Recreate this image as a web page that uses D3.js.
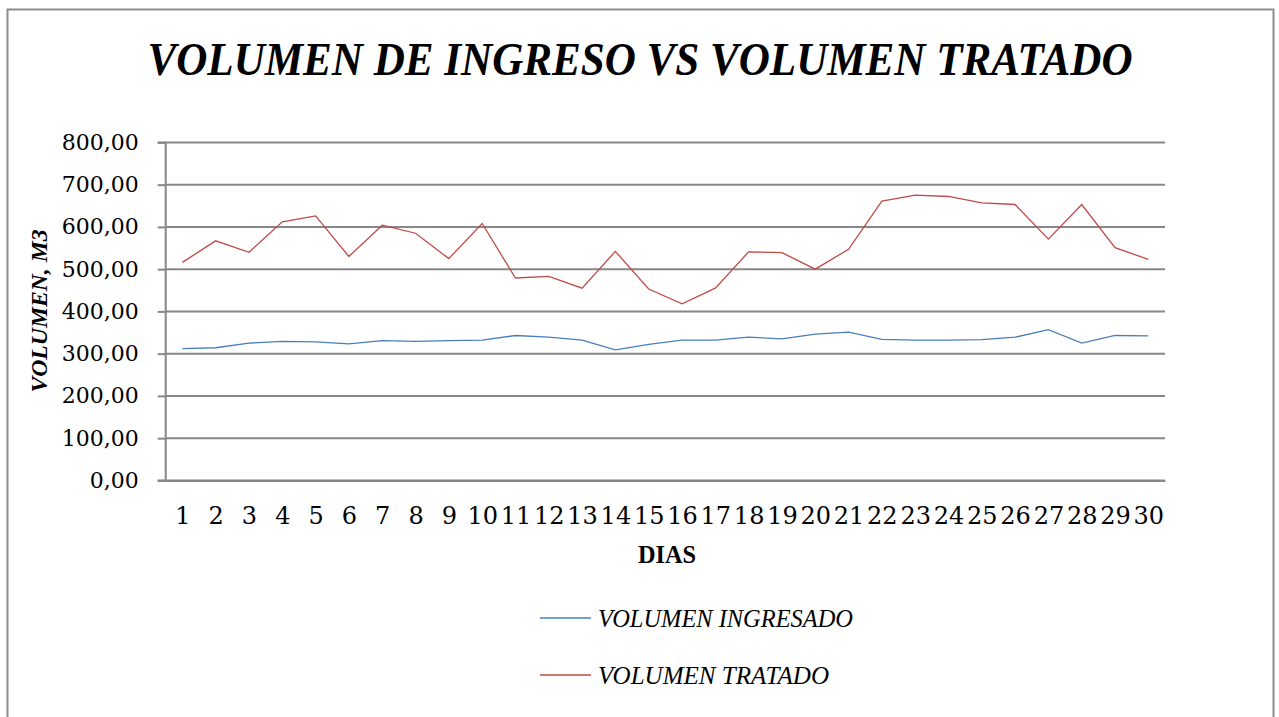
<!DOCTYPE html>
<html>
<head>
<meta charset="utf-8">
<script src="https://cdn.jsdelivr.net/npm/d3@7"></script>
<style>
  html, body { margin: 0; padding: 0; background: #fff; }
  svg { display: block; }
</style>
</head>
<body>
<svg id="chart" width="1279" height="717"></svg>
<script>
const days = d3.range(1, 31).map(String);
const volumenIngresado = [312, 314, 325, 329, 328, 323, 331, 329, 331, 332,
                          343, 339, 332, 309, 322, 332, 332, 339, 335, 346,
                          351, 334, 332, 332, 333, 339, 357, 325, 343, 342];
const volumenTratado = [516, 567, 540, 612, 626, 530, 604, 585, 525, 608,
                        479, 483, 455, 542, 453, 418, 455, 541, 539, 500,
                        547, 661, 675, 672, 657, 653, 571, 653, 551, 523];
const yTicks = [0, 100, 200, 300, 400, 500, 600, 700, 800];
const seriesNames = ["VOLUMEN INGRESADO", "VOLUMEN TRATADO"];
const seriesColors = ["#4a7ebb", "#be4b48"];

const svg = d3.select("#chart");
const serif = "'Liberation Serif', 'DejaVu Serif', serif";

// outer frame
svg.append("rect").attr("x", 7.5).attr("y", 9.5).attr("width", 1266).attr("height", 720)
  .attr("fill", "#fff").attr("stroke", "#8c8c8c").attr("stroke-width", 2);

// title
svg.append("text").attr("x", 640).attr("y", 75).attr("text-anchor", "middle")
  .attr("font-family", serif).attr("font-weight", "bold").attr("font-style", "italic")
  .attr("font-size", 47).attr("textLength", 985).attr("lengthAdjust", "spacingAndGlyphs")
  .attr("fill", "#000").text("VOLUMEN DE INGRESO VS VOLUMEN TRATADO");

const pLeft = 165.7, pRight = 1165, pTop = 142.4, pBottom = 480.4;
const x = d3.scalePoint().domain(days).range([pLeft, pRight]).padding(0.5);
const y = d3.scaleLinear().domain([0, 800]).range([pBottom, pTop]);

// gridlines
svg.append("g").selectAll("line").data(yTicks).join("line")
  .attr("x1", pLeft).attr("x2", pRight)
  .attr("y1", d => y(d)).attr("y2", d => y(d))
  .attr("stroke", "#878787").attr("stroke-width", 2);

// y axis
const yAxis = d3.axisLeft(y).tickValues(yTicks).tickSize(8).tickPadding(19)
  .tickFormat(d => d3.format(".2f")(d).replace(".", ","));
const gy = svg.append("g").attr("transform", `translate(${pLeft},0)`).call(yAxis);
gy.select(".domain").attr("stroke", "#878787").attr("stroke-width", 2).attr("d", `M-8,${pTop}H0V${pBottom}H-8`);
gy.selectAll(".tick line").attr("stroke", "#878787").attr("stroke-width", 2);
gy.selectAll(".tick text").attr("font-family", "'DejaVu Serif', serif").attr("font-size", 22).attr("fill", "#000");

// x axis
const xAxis = d3.axisBottom(x).tickSize(0);
const gx = svg.append("g").attr("transform", `translate(0,${pBottom})`).call(xAxis);
gx.select(".domain").attr("stroke", "#878787").attr("stroke-width", 2);
gx.selectAll(".tick text").attr("font-family", "'DejaVu Serif', serif").attr("font-size", 24)
  .attr("fill", "#000").attr("y", 44).attr("dy", null);

// axis titles
svg.append("text").attr("x", 667).attr("y", 563).attr("text-anchor", "middle")
  .attr("font-family", serif).attr("font-weight", "bold").attr("font-size", 25)
  .attr("textLength", 58).attr("lengthAdjust", "spacingAndGlyphs").text("DIAS");
svg.append("text").attr("transform", "translate(47,311) rotate(-90)").attr("text-anchor", "middle")
  .attr("font-family", serif).attr("font-weight", "bold").attr("font-style", "italic").attr("font-size", 24)
  .attr("textLength", 163).attr("lengthAdjust", "spacingAndGlyphs").text("VOLUMEN, M3");

// lines
const allSeries = [volumenIngresado, volumenTratado];
const line = d3.line().x((d, i) => x(days[i])).y(d => y(d));
svg.append("g").selectAll("path").data(allSeries).join("path")
  .attr("d", d => line(d)).attr("fill", "none")
  .attr("stroke", (d, i) => seriesColors[i]).attr("stroke-width", 1.3);

// legend
const legendWidths = [255, 231];
const lg = svg.append("g");
seriesNames.forEach((name, i) => {
  const ly = 618 + i * 57;
  lg.append("line").attr("x1", 540).attr("x2", 591).attr("y1", ly).attr("y2", ly)
    .attr("stroke", seriesColors[i]).attr("stroke-width", 1.3);
  lg.append("text").attr("x", 598).attr("y", ly + 9).attr("font-family", serif)
    .attr("font-style", "italic").attr("font-size", 26)
    .attr("textLength", legendWidths[i]).attr("lengthAdjust", "spacingAndGlyphs").text(name);
});
</script>
</body>
</html>
